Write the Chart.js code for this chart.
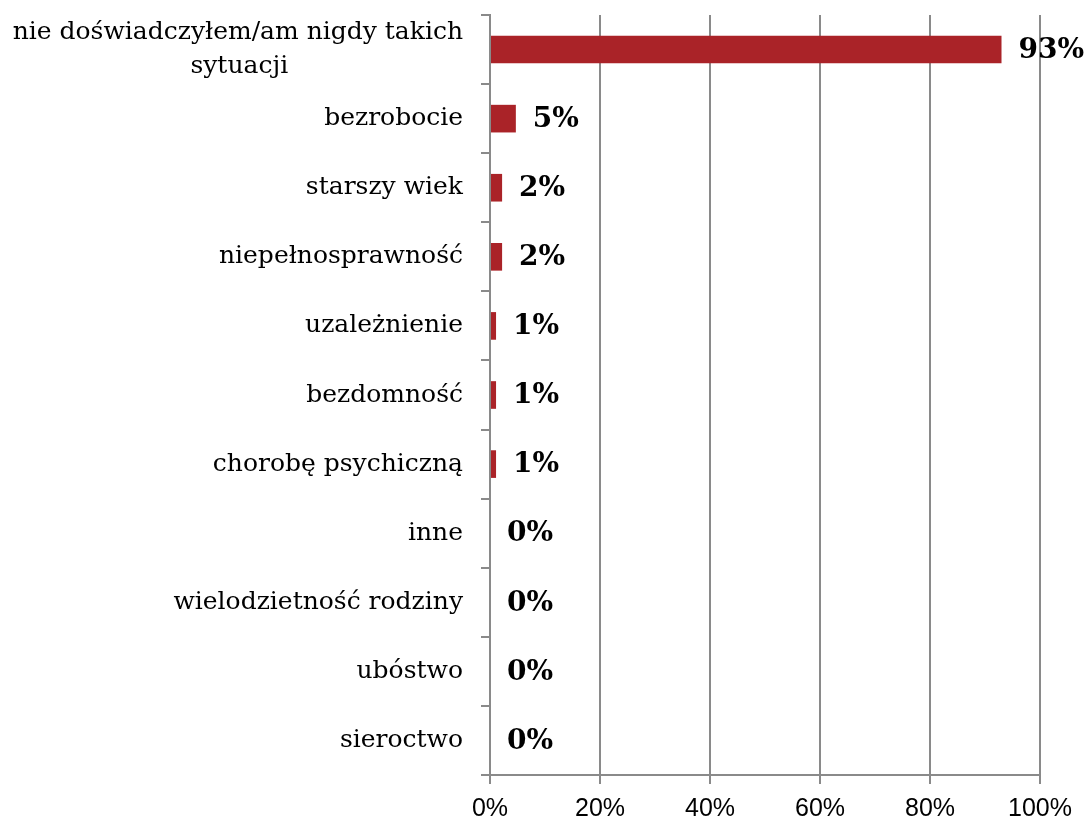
<!DOCTYPE html>
<html lang="pl">
<head>
    <meta charset="UTF-8">
    <title>Sytuacje</title>
    <script src="https://cdn.jsdelivr.net/npm/chart.js"></script>
    <style>
        body { margin: 0; background: #fff; }
        #wrap { width: 1088px; height: 825px; }
    </style>
</head>
<body>

<div id="wrap">
    <canvas id="myChart"></canvas>
</div>

<script>
    // Data
    var categories = [
        'nie doświadczyłem/am nigdy takich|sytuacji',
        'bezrobocie',
        'starszy wiek',
        'niepełnosprawność',
        'uzależnienie',
        'bezdomność',
        'chorobę psychiczną',
        'inne',
        'wielodzietność rodziny',
        'ubóstwo',
        'sieroctwo'
    ];
    var values = [93, 4.7, 2.2, 2.2, 1.1, 1.1, 1.1, 0, 0, 0, 0];
    var xTicks = [0, 20, 40, 60, 80, 100];

    var labelFont = '25px "DejaVu Serif"';
    var barColor = '#AA2328';
    var gridColor = '#8a8a8a';

    // two-line label: pad the second line so it sits centred under the first
    var measure = document.createElement('canvas').getContext('2d');
    measure.font = labelFont;
    var labels = categories.map(function (c) {
        var parts = c.split('|');
        if (parts.length < 2) return c;
        var w1 = measure.measureText(parts[0]).width;
        var w2 = measure.measureText(parts[1]).width;
        var sp = measure.measureText(' ').width;
        var n = Math.round((w1 - w2) / 2 / sp);
        return [parts[0], parts[1] + ' '.repeat(n)];
    });

    // value labels next to each bar
    var valueLabels = {
        id: 'valueLabels',
        afterDatasetsDraw: function (chart) {
            var ctx = chart.ctx;
            var meta = chart.getDatasetMeta(0);
            ctx.save();
            ctx.font = 'bold 28px "DejaVu Serif"';
            ctx.fillStyle = '#000';
            ctx.textAlign = 'left';
            ctx.textBaseline = 'middle';
            meta.data.forEach(function (bar, i) {
                ctx.fillText(Math.round(values[i]) + '%', bar.x + 17, bar.y + 1);
            });
            ctx.restore();
        }
    };

    var ctx = document.getElementById('myChart').getContext('2d');
    var myChart = new Chart(ctx, {
        type: 'bar',
        data: {
            labels: labels,
            datasets: [{
                data: values,
                backgroundColor: barColor,
                barPercentage: 0.4,
                categoryPercentage: 1
            }]
        },
        options: {
            indexAxis: 'y',
            responsive: true,
            maintainAspectRatio: false,
            animation: false,
            layout: { padding: { top: 15, right: 48, left: 0, bottom: 0 } },
            plugins: {
                legend: { display: false },
                tooltip: { enabled: false }
            },
            scales: {
                x: {
                    min: 0,
                    max: 100,
                    afterBuildTicks: function (scale) {
                        scale.ticks = xTicks.map(function (v) { return { value: v }; });
                    },
                    afterFit: function (scale) { scale.height = 50; },
                    grid: {
                        color: gridColor,
                        lineWidth: 2,
                        tickLength: 9
                    },
                    border: { color: gridColor, width: 2 },
                    ticks: {
                        callback: function (v) { return v + '%'; },
                        color: '#000',
                        padding: 10,
                        font: { family: '"Liberation Sans"', size: 25 }
                    }
                },
                y: {
                    afterFit: function (scale) {
                        scale.width = 490;
                        scale.paddingTop = 0;
                        scale.paddingBottom = 0;
                    },
                    grid: {
                        drawOnChartArea: false,
                        color: gridColor,
                        lineWidth: 2,
                        tickLength: 9
                    },
                    border: { color: gridColor, width: 2 },
                    ticks: {
                        autoSkip: false,
                        color: '#000',
                        padding: 18,
                        font: { family: '"DejaVu Serif"', size: 25, lineHeight: 1.35 }
                    }
                }
            }
        },
        plugins: [valueLabels]
    });
</script>

</body>
</html>
